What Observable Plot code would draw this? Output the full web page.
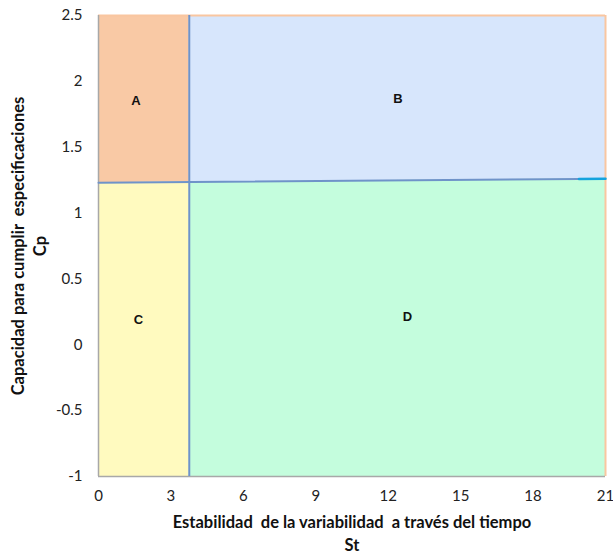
<!DOCTYPE html>
<html>
<head>
<meta charset="utf-8">
<script src="https://cdn.jsdelivr.net/npm/d3@7"></script>
<script src="https://cdn.jsdelivr.net/npm/@observablehq/plot@0.6"></script>
<style>
body { margin: 0; background: #fff; }
svg { font-family: Lato, "Open Sans", sans-serif; }
</style>
</head>
<body>
<div id="chart"></div>
<script>
// Region boundaries
const xDomain = [0, 21];
const yDomain = [-1, 2.5];
const xTicks = [0, 3, 6, 9, 12, 15, 18, 21];
const yTicks = [-1, -0.5, 0, 0.5, 1, 1.5, 2, 2.5];
const stSplit = 3.76;          // vertical divider
const cpLeft = 1.23;           // horizontal divider at left
const cpRight = 1.26;          // horizontal divider at right
const cpCyanStart = 19.9;      // start of cyan segment

const regionNames = ["A", "B", "C", "D"];
const regionColors = ["#F9C9A5", "#D7E6FC", "#FFFABF", "#C4FDDD"];
const labelX = [1.55, 12.4, 1.65, 12.8];
const labelY = [1.85, 1.87, 0.19, 0.21];

const xTitle = "Estabilidad  de la variabilidad  a través del tiempo";
const xTitle2 = "St";
const yTitle = "Capacidad para cumplir  especificaciones";
const yTitle2 = "Cp";

// boundary y at a given x (linear between left and right)
const cpAt = x => cpLeft + (cpRight - cpLeft) * x / 21;

const leftX = [0, stSplit];
const rightX = [stSplit, 21];

const areaA = leftX.map(x => ({x, y1: cpAt(x), y2: 2.5}));
const areaB = rightX.map(x => ({x, y1: cpAt(x), y2: 2.5}));
const areaC = leftX.map(x => ({x, y1: -1, y2: cpAt(x)}));
const areaD = rightX.map(x => ({x, y1: -1, y2: cpAt(x)}));
const areas = [areaA, areaB, areaC, areaD];

const hLine = [0, cpCyanStart].map(x => ({x, y: cpAt(x)}));
const hCyan = [cpCyanStart, 21].map(x => ({x, y: cpAt(x)}));

const labels = regionNames.map((n, i) => ({n, x: labelX[i], y: labelY[i]}));

const fmt = d => String(d).replace("−", "-");

const chart = Plot.plot({
  width: 613,
  height: 558,
  marginLeft: 98,
  marginRight: 8,
  marginTop: 15,
  marginBottom: 82,
  style: {fontSize: "15px", fontFamily: "Lato, 'Open Sans', sans-serif", color: "#222"},
  x: {domain: xDomain, ticks: xTicks, tickSize: 0, tickPadding: 14, label: null, tickFormat: fmt},
  y: {domain: yDomain, ticks: yTicks, tickSize: 0, tickPadding: 16, label: null, tickFormat: fmt},
  marks: [
    ...areas.map((a, i) => Plot.areaY(a, {x: "x", y1: "y1", y2: "y2", fill: regionColors[i], fillOpacity: 1})),
    Plot.ruleY([2.5], {stroke: "#F9C6A0", strokeWidth: 2}),
    Plot.ruleX([21], {stroke: "#F9C6A0", strokeWidth: 2}),
    Plot.ruleX([0], {stroke: "#A8A8A8", strokeWidth: 1.5}),
    Plot.ruleY([-1], {stroke: "#A8A8A8", strokeWidth: 1.5}),
    Plot.line(hLine, {x: "x", y: "y", stroke: "#6F93C9", strokeWidth: 2}),
    Plot.line(hCyan, {x: "x", y: "y", stroke: "#14A3DD", strokeWidth: 2.5}),
    Plot.ruleX([stSplit], {y1: -1, y2: 2.5, stroke: "#6F93C9", strokeWidth: 2}),
    Plot.text(labels, {x: "x", y: "y", text: "n", fontWeight: "bold", fontSize: 13, fill: "#111", fontFamily: "'Liberation Sans', Arial, sans-serif"}),
    Plot.axisX({ticks: xTicks, tickSize: 0, tickPadding: 14, tickFormat: fmt, fontSize: 15, label: null}),
    Plot.axisY({ticks: yTicks, tickSize: 0, tickPadding: 16, tickFormat: fmt, fontSize: 15, label: null}),
    Plot.text([xTitle], {frameAnchor: "bottom", dy: 51, fontWeight: "bold", fontSize: 16.5, fill: "#111"}),
    Plot.text([xTitle2], {frameAnchor: "bottom", dy: 74, fontWeight: "bold", fontSize: 16.5, fill: "#111"}),
    Plot.text([yTitle], {frameAnchor: "left", textAnchor: "middle", dx: -80, rotate: -90, fontWeight: "bold", fontSize: 16.5, fill: "#111"}),
    Plot.text([yTitle2], {frameAnchor: "left", textAnchor: "middle", dx: -58, rotate: -90, fontWeight: "bold", fontSize: 16.5, fill: "#111"})
  ]
});
document.getElementById("chart").appendChild(chart);
</script>
</body>
</html>
